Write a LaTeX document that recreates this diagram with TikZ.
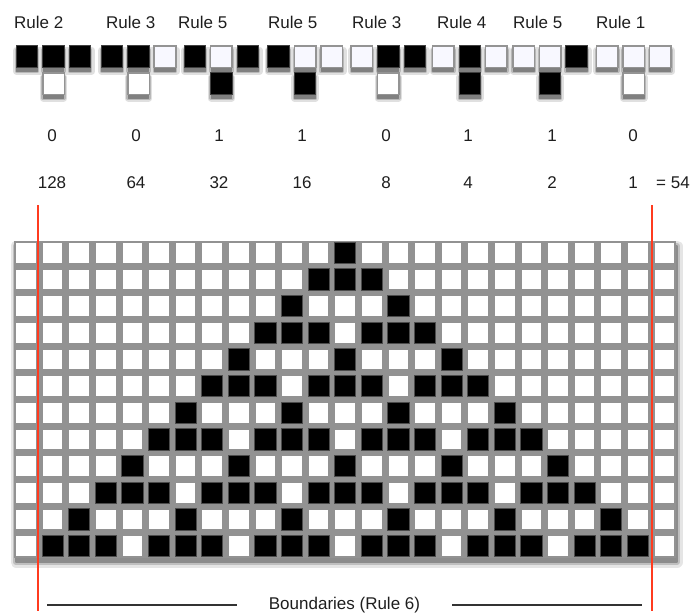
\documentclass[tikz,border=0pt]{standalone}
\usepackage{fontspec}
\setmainfont{Liberation Sans}
\definecolor{cellgray}{HTML}{929292}
\definecolor{ghost}{HTML}{F8F8FF}
\definecolor{redl}{HTML}{FF3B1F}
\definecolor{txt}{HTML}{1E1E1E}
\begin{document}
\begin{tikzpicture}[x=1pt,y=-1pt,
  lbl/.style={font=\fontsize{17}{19}\selectfont, inner sep=0pt, text=txt},
  shA/.style={draw=black!12, fill=black!12, line width=7pt, line join=round},
  shB/.style={draw=black!28, fill=black!28, line width=4pt, line join=round},
  shC/.style={draw=black!50, fill=black!50, line width=1.2pt, line join=round},
  gshA/.style={draw=black!10, fill=black!10, line width=11pt, line join=round},
  gshB/.style={draw=black!25, fill=black!25, line width=6pt, line join=round},
  gshC/.style={draw=black!45, fill=black!45, line width=2pt, line join=round},
  state0/.style={fill=ghost, draw=black!42, line width=1.6pt},
  state1/.style={fill=black, draw=black!75, line width=1pt},
  botstate0/.style={fill=white, draw=black!42, line width=1.6pt},
  botstate1/.style={fill=black, draw=black!75, line width=1pt},
  redline/.style={draw=redl, line width=2pt},
  bline/.style={draw=black!80, line width=1.3pt}]
\useasboundingbox (0,0) rectangle (691,614);

% shadows of the rule cells (three soft layers, offset downwards)
\foreach \gl in {15.4,100.4,183.3,267,350.2,431.7,512,595.6} {
  \path[shA] ({\gl+1.3},50) rectangle ({\gl+76.2},71.2);
  \path[shA] ({\gl+27.8},77) rectangle ++(20.6,21.2);
}
\foreach \gl in {15.4,100.4,183.3,267,350.2,431.7,512,595.6} {
  \path[shB] ({\gl+1.3},50) rectangle ++(20.6,21.2);
  \path[shB] ({\gl+27.8},50) rectangle ++(20.6,21.2);
  \path[shB] ({\gl+54.3},50) rectangle ++(20.6,21.2);
  \path[shB] ({\gl+27.8},77) rectangle ++(20.6,21.2);
}
\foreach \gl in {15.4,100.4,183.3,267,350.2,431.7,512,595.6} {
  \path[shC] ({\gl+1.3},50) rectangle ++(20.6,21.2);
  \path[shC] ({\gl+27.8},50) rectangle ++(20.6,21.2);
  \path[shC] ({\gl+54.3},50) rectangle ++(20.6,21.2);
  \path[shC] ({\gl+27.8},77) rectangle ++(20.6,21.2);
}

% rule labels
\foreach \lx/\t [count=\i] in {14/2,106/3,178/5,268/5,352/3,437/4,513/5,596/1}
  \node[lbl, anchor=base west] (rule\i) at (\lx,28) {Rule \t};

% rule patterns
\foreach \gl/\a/\b/\c/\r in {15.4/1/1/1/0, 100.4/1/1/0/0, 183.3/1/0/1/1, 267/1/0/0/1,
                             350.2/0/1/1/0, 431.7/0/1/0/1, 512/0/0/1/1, 595.6/0/0/0/0} {
  \path[state\a] ({\gl+0.8},45.8) rectangle ++(21.6,21.6);
  \path[state\b] ({\gl+27.3},45.8) rectangle ++(21.6,21.6);
  \path[state\c] ({\gl+53.8},45.8) rectangle ++(21.6,21.6);
  \path[botstate\r] ({\gl+27.3},72.8) rectangle ++(21.6,21.6);
}

% bits and weights
\foreach \x/\b/\w [count=\i] in {52/0/128,136/0/64,219/1/32,302/1/16,386/0/8,468/1/4,552/1/2,633/0/1}{
  \node[lbl] (bit\i) at (\x,136) {\b};
  \node[lbl] (wt\i) at (\x,183) {\w};
}
\node[lbl] (eq) at (673,183) {= 54};

% grid shadow and grid
\path[gshA] (16,246) rectangle (677,562);
\path[gshB] (16,246) rectangle (677,562);
\path[gshC] (16,246) rectangle (677,562);
\path[fill=cellgray] (14,240.7) rectangle (676.4,558);
\foreach \r in {0,...,11}
  \foreach \c in {0,...,24}
    \fill[white] ({14+\c*26.6+2.2},{240.7+\r*26.67+2.2}) rectangle ++(19.6,19.6);
\foreach \r/\cols in {0/{12}, 1/{11,12,13}, 2/{10,14}, 3/{9,10,11,13,14,15}, 4/{8,12,16},
  5/{7,8,9,11,12,13,15,16,17}, 6/{6,10,14,18}, 7/{5,6,7,9,10,11,13,14,15,17,18,19},
  8/{4,8,12,16,20}, 9/{3,4,5,7,8,9,11,12,13,15,16,17,19,20,21}, 10/{2,6,10,14,18,22},
  11/{1,2,3,5,6,7,9,10,11,13,14,15,17,18,19,21,22,23}}
  \foreach \c in \cols
    \filldraw[fill=black, draw=black!70, line width=0.8pt] ({14+\c*26.6+1.4},{240.7+\r*26.67+1.4}) rectangle ++(21.2,21.2);

% boundaries
\draw[redline] (38,205) -- (38,611);
\draw[redline] (652,205) -- (652,611);
\node[lbl] (bnd) at (344.5,605) {Boundaries (Rule 6)};
\draw[bline] (47,605) -- (237,605);
\draw[bline] (452,605) -- (642,605);
\end{tikzpicture}
\end{document}
